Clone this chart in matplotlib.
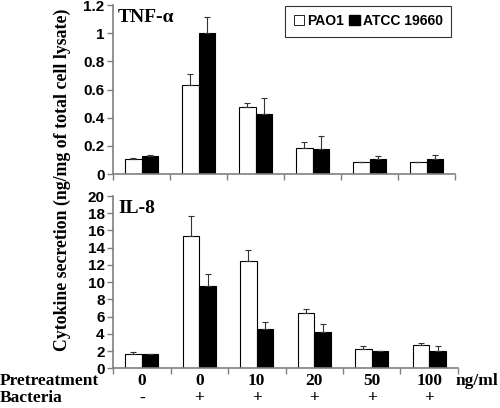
import numpy as np
import matplotlib.pyplot as plt
from matplotlib.patches import Rectangle
from matplotlib.transforms import blended_transform_factory

pretreatment = ['0', '0', '10', '20', '50', '100']
bacteria = ['-', '+', '+', '+', '+', '+']

tnf_pao1 = [0.107, 0.632, 0.474, 0.182, 0.083, 0.083]
tnf_pao1_err = [0.005, 0.076, 0.028, 0.043, 0.0, 0.002]
tnf_atcc = [0.130, 1.0, 0.426, 0.178, 0.107, 0.104]
tnf_atcc_err = [0.003, 0.115, 0.111, 0.090, 0.019, 0.031]

il8_pao1 = [1.66, 15.3, 12.4, 6.4, 2.28, 2.67]
il8_pao1_err = [0.2, 2.4, 1.3, 0.53, 0.28, 0.23]
il8_atcc = [1.7, 9.6, 4.57, 4.22, 2.01, 2.01]
il8_atcc_err = [0.0, 1.3, 0.78, 0.93, 0.04, 0.55]

serif = ['Liberation Serif', 'DejaVu Serif']
sans = ['Liberation Sans', 'DejaVu Sans']
plt.rcParams['font.family'] = sans
grey = '#808080'

fig = plt.figure(figsize=(5, 4.08), dpi=100)
ax1 = fig.add_axes([0.226, 0.5735, 0.684, 0.4142])
ax2 = fig.add_axes([0.226, 0.0973, 0.690, 0.4223])

x = np.arange(len(pretreatment))
w = 0.29


def draw(ax, a, ae, b, be, ylim, step, title):
    ax.bar(x - w / 2, a, w, color='white', edgecolor='black', linewidth=0.8,
           yerr=[np.zeros(len(a)), ae], error_kw=dict(ecolor='#333333', elinewidth=0.8, capsize=2, capthick=0.8))
    ax.bar(x + w / 2, b, w, color='black', edgecolor='black', linewidth=0.8,
           yerr=[np.zeros(len(b)), be], error_kw=dict(ecolor='#333333', elinewidth=0.8, capsize=2, capthick=0.8))
    ax.set_xlim(-0.5, len(x) - 0.5)
    ax.set_ylim(0, ylim)
    ax.set_yticks(np.arange(0, ylim + step / 2, step))
    ax.set_yticklabels(['%g' % v for v in np.arange(0, ylim + step / 2, step)],
                       fontweight='bold', fontsize=11)
    ax.set_xticks(np.arange(len(x) + 1) - 0.5)
    ax.set_xticklabels([])
    for s in ['top', 'right']:
        ax.spines[s].set_visible(False)
    for s in ['left', 'bottom']:
        ax.spines[s].set_color(grey)
        ax.spines[s].set_linewidth(1.2)
    ax.tick_params(colors=grey, length=4, width=1, labelcolor='black', pad=2)
    ax.text(0.015, 0.975, title, transform=ax.transAxes, ha='left', va='top',
            family=serif, fontweight='bold', fontsize=14)


draw(ax1, tnf_pao1, tnf_pao1_err, tnf_atcc, tnf_atcc_err, 1.2, 0.2, 'TNF-α')
draw(ax2, il8_pao1, il8_pao1_err, il8_atcc, il8_atcc_err, 20, 2, 'IL-8')

# legend
h1 = Rectangle((0, 0), 1, 1, facecolor='white', edgecolor='black', linewidth=0.6)
h2 = Rectangle((0, 0), 1, 1, facecolor='black', edgecolor='black')
leg = ax1.legend([h1, h2], ['PAO1', 'ATCC 19660'], loc='upper right', bbox_to_anchor=(0.988, 0.995),
                 ncol=2, frameon=True, fancybox=False, handlelength=0.75, handleheight=0.75,
                 handletextpad=0.2, columnspacing=0.4, borderpad=0.6, borderaxespad=0.0,
                 prop=dict(weight='bold', size=10))
leg.get_frame().set_edgecolor('black')
leg.get_frame().set_linewidth(0.8)

# row labels
tr = blended_transform_factory(ax2.transData, fig.transFigure)
for i in range(len(x)):
    ax2.text(x[i], 1 - 381 / 408, pretreatment[i], transform=tr, ha='center', va='center',
             family=serif, fontweight='bold', fontsize=12.5)
    ax2.text(x[i], 1 - 398.5 / 408, bacteria[i], transform=tr, ha='center', va='center',
             family=serif, fontweight='bold', fontsize=12.5)
fig.text(0.0, 1 - 381 / 408, 'Pretreatment', ha='left', va='center',
         family=serif, fontweight='bold', fontsize=12.5)
fig.text(0.0, 1 - 398.5 / 408, 'Bacteria', ha='left', va='center',
         family=serif, fontweight='bold', fontsize=12.5)
fig.text(0.911, 1 - 381 / 408, 'ng/ml', ha='left', va='center',
         family=serif, fontweight='bold', fontsize=12.5)

fig.text(0.124, 0.56, 'Cytokine secretion (ng/mg of total cell lysate)', rotation=90,
         ha='center', va='center', family=serif, fontweight='bold', fontsize=12.8)

fig.savefig('out.png', dpi=100)
